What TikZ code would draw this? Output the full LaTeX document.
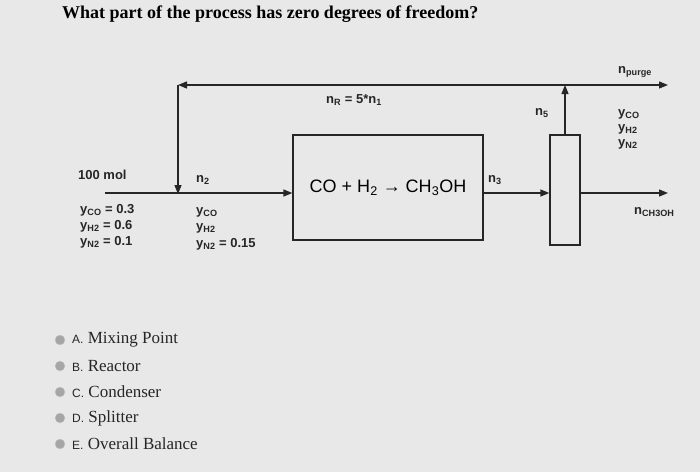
\documentclass[tikz,border=0pt]{standalone}
\usepackage{fontspec}
\setmainfont{Liberation Serif}
\newfontfamily\sans{Liberation Sans}
\usetikzlibrary{arrows.meta}
\newcommand{\ssub}[1]{\textsubscript{#1}}
\begin{document}
\begin{tikzpicture}[x=1pt,y=-1pt,
  ln/.style={line width=1.3pt,draw=black!85},
  arr/.style={ln,-{Triangle[length=9pt,width=7pt]}},
  lb/.style={font=\sans\bfseries\fontsize{13}{13}\selectfont,text=black!85,inner sep=0pt,anchor=west},
  opt/.style={font=\fontsize{17}{17}\selectfont,text=black!85,inner sep=0pt,anchor=west},
  rb/.style={circle,fill=black!35,draw=black!20,minimum size=10pt,inner sep=0pt}]
\fill[black!9] (0,0) rectangle (700,472);
\useasboundingbox (0,0) rectangle (700,472);
\node[anchor=west,inner sep=0pt,font=\bfseries\fontsize{18}{18}\selectfont] (title) at (62,14) {What part of the process has zero degrees of freedom?};
\node[draw=black!85,line width=1.3pt,minimum width=190pt,minimum height=105pt,inner sep=0pt] (reac) at (388,187.5) {};
\node[font=\sans\fontsize{18}{18}\selectfont,inner sep=0pt] (rt) at (388,188) {CO + H\ssub{2} → CH\ssub{3}OH};
\node[draw=black!85,line width=1.3pt,minimum width=30pt,minimum height=110pt,inner sep=0pt] (sp) at (565,190) {};
\coordinate (in) at (105,193);
\coordinate (mix) at (178,193);
\coordinate (tl) at (178,85);
\coordinate (tr) at (565,85);
\coordinate (pe) at (668,85);
\coordinate (me) at (668,193);
\draw[ln] (in) -- (mix);
\draw[arr] (mix) -- (reac.west|-mix);
\draw[arr] (reac.east|-mix) -- (sp.west|-mix);
\draw[arr] (sp.east|-mix) -- (me);
\draw[arr] (sp.north) -- (tr);
\draw[arr] (tr) -- (pe);
\draw[arr] (tr) -- (tl);
\draw[arr] (tl) -- ([yshift=-1pt]mix);
\node[lb] (nr) at (326,100) {n\ssub{R} = 5*n\ssub{1}};
\node[lb] (n5) at (535,113) {n\ssub{5}};
\node[lb] (np) at (618,72) {n\ssub{purge}};
\node[lb] (y1) at (618,114) {y\ssub{CO}};
\node[lb] (y2) at (618,129) {y\ssub{H2}};
\node[lb] (y3) at (618,144) {y\ssub{N2}};
\node[lb] (m) at (78,175) {100 mol};
\node[lb] (n2) at (196,180) {n\ssub{2}};
\node[lb] (a1) at (80,210) {y\ssub{CO} = 0.3};
\node[lb] (a2) at (80,226) {y\ssub{H2} = 0.6};
\node[lb] (a3) at (80,242) {y\ssub{N2} = 0.1};
\node[lb] (b1) at (196,212) {y\ssub{CO}};
\node[lb] (b2) at (196,228) {y\ssub{H2}};
\node[lb] (b3) at (196,244) {y\ssub{N2} = 0.15};
\node[lb] (n3) at (488,180) {n\ssub{3}};
\node[lb] (nc) at (634,212) {n\ssub{CH3OH}};
\foreach \y/\l/\t [count=\i] in {340/A./Mixing Point,366/B./Reactor,392/C./Condenser,418/D./Splitter,444/E./Overall Balance}{
  \node[rb] (r\i) at (60,\y) {};
  \node[opt] (o\i) at (72,\y) {{\sans\fontsize{12}{12}\selectfont\l} \t};
}
\end{tikzpicture}
\end{document}
